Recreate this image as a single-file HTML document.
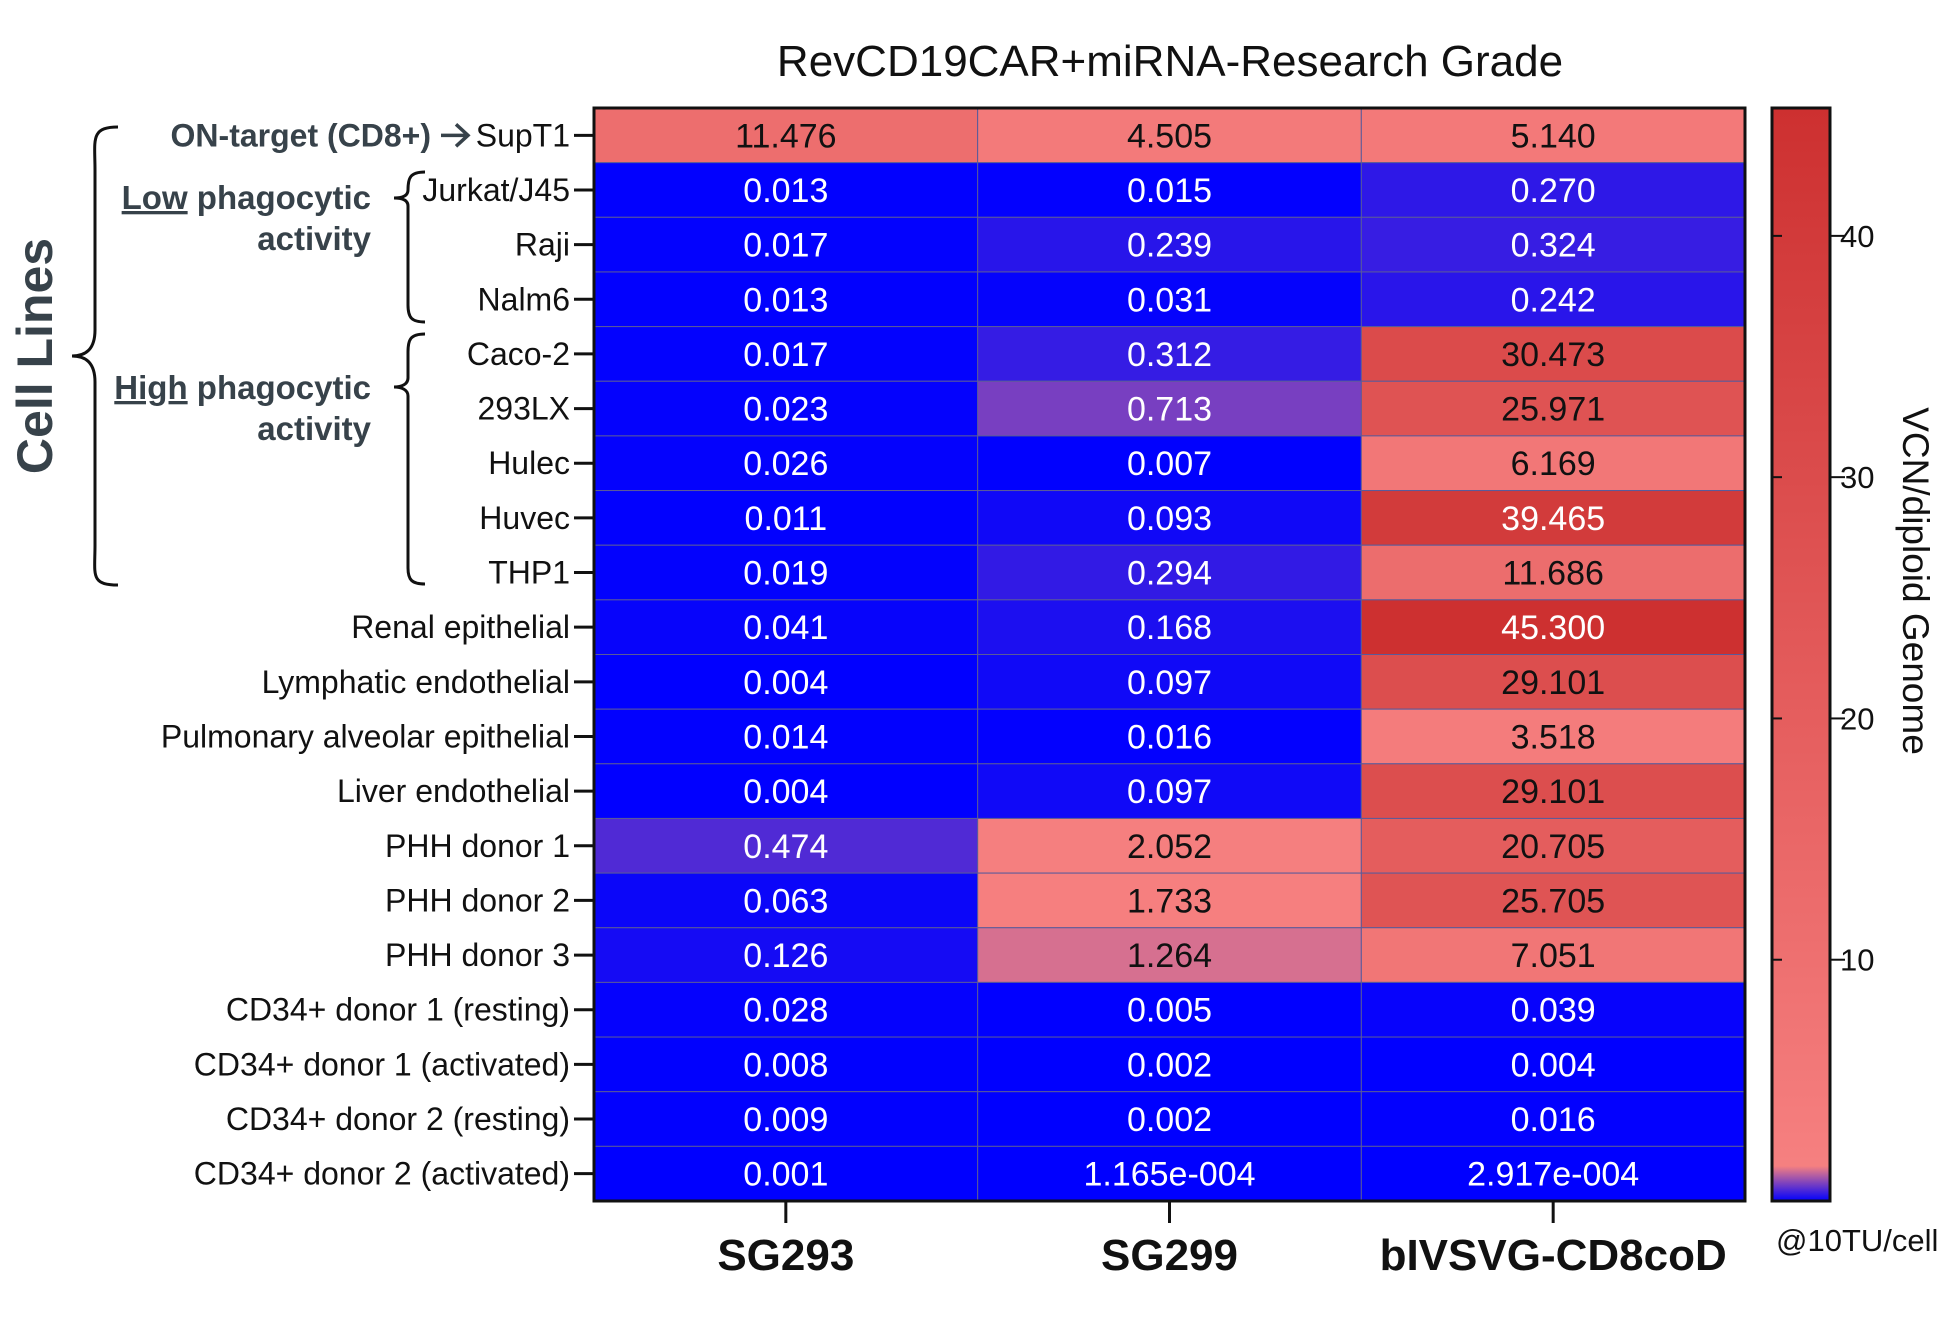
<!DOCTYPE html>
<html><head><meta charset="utf-8"><style>
body{margin:0;background:#fff}
svg text{font-family:"Liberation Sans",sans-serif}
</style></head><body>
<svg id="c" width="1951" height="1312" viewBox="0 0 1951 1312" xmlns="http://www.w3.org/2000/svg">
<text x="1170" y="76" font-size="44" text-anchor="middle" fill="#111">RevCD19CAR+miRNA-Research Grade</text>
<g id="cells"></g>
<g id="rowlabels"></g>
<g id="collabels"></g>
<g id="cbar"></g>
<g fill="none" stroke="#111" stroke-width="3">
<path d="M118,127 C90,127 95,140 95,170 L95,330 C95,350 85,356 72,356 C85,356 95,362 95,382 L95,545 C95,575 90,585 118,585"/>
<path d="M425,172 C410,172 408,178 408,190 C408,196 402,198 394,198 C402,198 408,200 408,206 L408,305 C408,318 412,322 425,322"/>
<path d="M425,334 C410,334 408,340 408,352 L408,378 C408,384 402,387 394,387 C402,387 408,390 408,396 L408,568 C408,580 412,584 425,584"/>
</g>
<text transform="translate(52,356) rotate(-90)" font-size="50" font-weight="bold" fill="#37424a" text-anchor="middle">Cell Lines</text>
<g font-size="33" font-weight="bold" fill="#37424a" text-anchor="end">
<text x="371" y="209"><tspan text-decoration="underline">Low</tspan> phagocytic</text>
<text x="371" y="250">activity</text>
<text x="371" y="399"><tspan text-decoration="underline">High</tspan> phagocytic</text>
<text x="371" y="440">activity</text>
</g>
<text transform="translate(1903,581) rotate(90)" font-size="37" fill="#111" text-anchor="middle">VCN/diploid Genome</text>
<text x="1776" y="1251" font-size="31" fill="#111">@10TU/cell</text>
</svg>
<script>
const rows=["SupT1","Jurkat/J45","Raji","Nalm6","Caco-2","293LX","Hulec","Huvec","THP1","Renal epithelial","Lymphatic endothelial","Pulmonary alveolar epithelial","Liver endothelial","PHH donor 1","PHH donor 2","PHH donor 3","CD34+ donor 1 (resting)","CD34+ donor 1 (activated)","CD34+ donor 2 (resting)","CD34+ donor 2 (activated)"];
const cols=["SG293","SG299","bIVSVG-CD8coD"];
const sg293=[11.476,0.013,0.017,0.013,0.017,0.023,0.026,0.011,0.019,0.041,0.004,0.014,0.004,0.474,0.063,0.126,0.028,0.008,0.009,0.001];
const sg299=[4.505,0.015,0.239,0.031,0.312,0.713,0.007,0.093,0.294,0.168,0.097,0.016,0.097,2.052,1.733,1.264,0.005,0.002,0.002,0.0001165];
const bivsvg=[5.140,0.270,0.324,0.242,30.473,25.971,6.169,39.465,11.686,45.300,29.101,3.518,29.101,20.705,25.705,7.051,0.039,0.004,0.016,0.0002917];
const cbTicks=[10,20,30,40];
const NS="http://www.w3.org/2000/svg";
const L=594,R=1745,T=108,B=1201,vmax=45.3;
const rh=(B-T)/rows.length, cw=(R-L)/cols.length;
function yRow(i){return T+i*rh;}
function xCol(j){return L+j*cw;}
function cbY(v){return B-(v/vmax)*(B-T);}
function color(v){
  if(v<=1.45){const t=Math.max(0,v)/1.45;return `rgb(${Math.round(0+t*245)},${Math.round(0+t*128)},${Math.round(255-t*127)})`;}
  const t=Math.min(1,(v-1.45)/(vmax-1.45));
  return `rgb(${Math.round(246-t*41)},${Math.round(128-t*80)},${Math.round(128-t*80)})`;
}
function fmt(v){return v<0.001?v.toExponential(3).replace(/e-(\d)$/,"e-00$1"):v.toFixed(3);}
function mk(tag,attrs,parent){const e=document.createElementNS(NS,tag);for(const k in attrs)e.setAttribute(k,attrs[k]);parent.appendChild(e);return e;}
const cells=document.getElementById('cells');
const series=[sg293,sg299,bivsvg];
series.forEach((s,j)=>{
  s.forEach((v,i)=>{
    const r=mk('rect',{x:xCol(j),y:yRow(i),width:cw,height:rh,fill:color(v),stroke:'#5a5a9a','stroke-width':1},cells);
    
    
    const t=mk('text',{x:xCol(j)+cw/2,y:yRow(i)+rh/2+12,'font-size':34,'text-anchor':'middle',fill:(v<1||v>35)?'#fff':'#111'},cells);
    
    
    t.textContent=fmt(v);
  });
});
mk('rect',{x:L,y:T,width:R-L,height:B-T,fill:'none',stroke:'#111','stroke-width':3},cells);
const rl=document.getElementById('rowlabels');
rows.forEach((n,i)=>{
  const y=yRow(i)+rh/2;
  mk('line',{x1:574,x2:594,y1:y,y2:y,stroke:'#111','stroke-width':3},rl);
  const t=mk('text',{x:570,y:y+11,'font-size':32,'text-anchor':'end',fill:'#111'},rl);
  
  
  t.textContent=n;
});
const ay=yRow(0)+rh/2;
const on=mk('text',{x:431,y:ay+11,'font-size':32,'font-weight':'bold','text-anchor':'end',fill:'#37424a'},rl);


on.textContent="ON-target (CD8+)";
const ar=mk('path',{d:`M441,${ay} L467,${ay} M456,${ay-11} L468,${ay} L456,${ay+11}`,stroke:'#37424a','stroke-width':3.5,fill:'none'},rl);


const cl=document.getElementById('collabels');
cols.forEach((n,j)=>{
  const x=xCol(j)+cw/2;
  mk('line',{x1:x,x2:x,y1:B,y2:B+22,stroke:'#111','stroke-width':3},cl);
  const t=mk('text',{x:x,y:1270,'font-size':44,'font-weight':'bold','text-anchor':'middle',fill:'#111'},cl);
  
  
  t.textContent=n;
});
const cb=document.getElementById('cbar');
const defs=mk('defs',{},cb);
const g=mk('linearGradient',{id:'grad',x1:0,y1:1,x2:0,y2:0,gradientUnits:'userSpaceOnUse'},defs);
g.setAttribute('y1',B);g.setAttribute('y2',T);
[0,0.8,1.45,2.5,10,20,30,40,45.3].forEach(v=>{mk('stop',{offset:v/vmax,'stop-color':color(v)},g);});
mk('rect',{x:1772,y:T,width:58,height:B-T,fill:'url(#grad)',stroke:'#111','stroke-width':3},cb);
cbTicks.forEach(v=>{
  const y=cbY(v);
  mk('line',{x1:1830,x2:1845,y1:y,y2:y,stroke:'#111','stroke-width':2},cb);
  mk('line',{x1:1772,x2:1782,y1:y,y2:y,stroke:'#111','stroke-width':2},cb);
  const t=mk('text',{x:1840,y:y+11,'font-size':31,fill:'#111'},cb);
  
  
  t.textContent=v;
});
</script>
</body></html>
